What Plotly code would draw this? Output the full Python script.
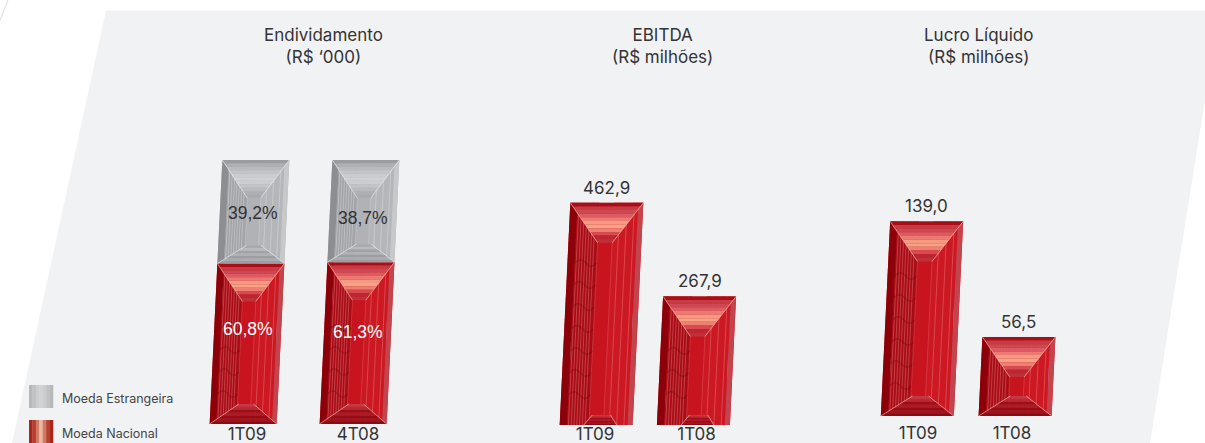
import math
import plotly.graph_objects as go

W, H = 1205, 443

# ---- data ----
debt_periods = ["1T09", "4T08"]
debt_national = [60.8, 61.3]
debt_foreign = [39.2, 38.7]
ebitda_periods = ["1T09", "1T08"]
ebitda_values = [462.9, 267.9]
profit_periods = ["1T09", "1T08"]
profit_values = [139.0, 56.5]
panel_titles = ["Endividamento<br>(R$ ‘000)", "EBITDA<br>(R$ milhões)", "Lucro Líquido<br>(R$ milhões)"]
legend_labels = ["Moeda Estrangeira", "Moeda Nacional"]


def fmt(v, suffix=""):
    return f"{v:.1f}".replace(".", ",") + suffix


TXT = "Inter, Liberation Sans"
RED = dict(
    main="#c8141f", left="#a80c16", edge="#8c0009", right="#cc1822", rim="#c4444e",
    line="#f3b7a8", stripe="rgba(240,140,140,0.40)", wave="rgba(110,0,10,0.30)",
    top=["#a80e18", "#c83a44", "#cc4852", "#de5a62", "#ec7a72", "#f59a80", "#f6a287",
         "#ee8070", "#d84a50", "#bb2630", "#c0303a"],
    bottom=["#8c0a14", "#a01420", "#940c16", "#ac1c28", "#9c0e18", "#b82a34", "#c23a44"],
)
GRAY = dict(
    main="#b0b2b6", left="#a2a4a8", edge="#8c8e92", right="#b4b6ba", rim="#c6c8ca",
    line="#eceded", stripe="rgba(235,235,238,0.35)", wave=None,
    top=["#9a9ca0", "#aeb0b4", "#b8babe", "#c2c4c6", "#cacccf", "#cfd1d3", "#cbcdd0",
         "#c2c4c6", "#b8babd", "#aeb0b4", "#a8aaae"],
    bottom=["#9c9ea2", "#aaacb0", "#9c9ea2", "#b0b2b6", "#a0a2a6", "#b8babe", "#a8aaae"],
)

# panel geometry (page pixels)
PANELS = [
    dict(c0=249.5, step=110, base=424, top=150, ppu=2.64, bar=67, tick=(-0.023, -0.014), stand=-2),
    dict(c0=601.5, step=95, base=425, top=150, ppu=0.48, bar=73, tick=(-0.068, 0.0), stand=-3),
    dict(c0=922.0, step=95, base=416, top=150, ppu=1.40, bar=73, tick=(-0.042, -0.053), stand=5),
]
SKEW = 0.048  # horizontal px of lean per px of height

shapes = []
annotations = []
fig = go.Figure()


def poly_paper(pts, color):
    path = "M" + "L".join(f"{x / W:.5f},{1 - y / H:.5f}" for x, y in pts) + "Z"
    shapes.append(dict(type="path", path=path, xref="paper", yref="paper", fillcolor=color,
                       line=dict(width=0), layer="below"))


# background slanted panel
poly_paper([(106, 10.5), (1205, 10.5), (1205, 100), (1150, 443), (12, 443)], "#f1f2f4")
shapes.append(dict(type="line", xref="paper", yref="paper", x0=0, y0=1 - 20 / H, x1=8 / W, y1=1,
                   line=dict(color="#dcdcdc", width=1)))

for i, p in enumerate(PANELS):
    n = "" if i == 0 else str(i + 1)
    p["xa"], p["ya"] = "x" + n, "y" + n
    x0 = p["c0"] - p["step"] / 2
    x1 = x0 + 2 * p["step"]
    p["ymax"] = (p["base"] - p["top"]) / p["ppu"]
    cats = [debt_periods, ebitda_periods, profit_periods][i]
    fig.update_layout(**{
        "xaxis" + n: dict(domain=[x0 / W, x1 / W], range=[-0.5, 1.5],
                          tickvals=[0 + p["tick"][0], 1 + p["tick"][1]], ticktext=cats,
                          showgrid=False, zeroline=False, showline=False, ticks="", automargin=False,
                          anchor=p["ya"], ticklabelstandoff=p["stand"],
                          tickfont=dict(family=TXT, size=17, color="#333333")),
        "yaxis" + n: dict(domain=[1 - p["base"] / H, 1 - p["top"] / H], range=[0, p["ymax"]],
                          visible=False, anchor=p["xa"], automargin=False),
    })


def add_segment(p, idx, low, high, total, pal, depth, inner=0.2, bdepth=20, bev=(0.42, 0.64), foot=(0.0, 1.0)):
    """Draw one slanted, bevelled bar segment from its values through the panel's axes."""
    step, ppu = p["step"], p["ppu"]
    half = p["bar"] / 2 / step
    lean = SKEW * ppu / step  # x units per y unit

    def X(u, y):
        return idx + (y - total / 2) * lean + (u - 0.5) * 2 * half

    def poly(corners, color, layer="above"):
        d = "M" + "L".join(f"{X(u, y):.5f},{y:.4f}" for u, y in corners) + "Z"
        shapes.append(dict(type="path", path=d, xref=p["xa"], yref=p["ya"], fillcolor=color,
                           line=dict(width=0), layer=layer))

    def seg(a, b, color, width=0.7):
        d = f"M{X(a[0], a[1]):.5f},{a[1]:.4f}L{X(b[0], b[1]):.5f},{b[1]:.4f}"
        shapes.append(dict(type="path", path=d, xref=p["xa"], yref=p["ya"],
                           line=dict(color=color, width=width), layer="above"))

    dt = depth / ppu
    db = bdepth / ppu
    a, b = 0.5 - inner / 2, 0.5 + inner / 2
    ba, bb = bev
    f0, f1 = foot

    # side faces
    poly([(0, low), (1, low), (1, high), (0, high)], pal["main"], "below")
    poly([(0, low), (0.1, low), (0.1, high), (0, high)], pal["edge"])
    poly([(0.1, low), (a, low), (a, high), (0.1, high)], pal["left"])
    poly([(b, low), (0.93, low), (0.93, high), (b, high)], pal["right"])
    poly([(0.93, low), (1, low), (1, high), (0.93, high)], pal["rim"])
    for k in range(7):
        u = 0.12 + k * 0.038
        seg((u, low), (u, high), pal["stripe"], 1)
    for u in (0.68, 0.78, 0.88):
        seg((u, low), (u, high), pal["stripe"], 1)
    seg((a, low), (a, high), pal["stripe"], 0.7)
    seg((b, low), (b, high), pal["stripe"], 0.7)

    # faint ripple texture on the left face
    if pal["wave"]:
        yy = low + 30 / ppu
        while yy < high - (depth + 12) / ppu:
            pts = []
            for s in range(9):
                u = 0.1 + (a - 0.1) * s / 8
                y = yy + 3.5 / ppu * math.sin(s / 8 * 2 * math.pi)
                pts.append(f"{X(u, y):.5f},{y:.4f}")
            shapes.append(dict(type="path", path="M" + "L".join(pts), xref=p["xa"], yref=p["ya"],
                               line=dict(color=pal["wave"], width=1.5), layer="above"))
            yy += 22 / ppu

    # bevelled top with horizontal bands
    nb = len(pal["top"])
    ytop = high - dt
    for k, c in enumerate(pal["top"]):
        t0, t1 = k / nb, (k + 1) / nb
        y0, y1 = high - dt * t0, high - dt * t1
        poly([(a * t0, y0), (1 - (1 - b) * t0, y0), (1 - (1 - b) * t1, y1), (a * t1, y1)], c)
    seg((0, high), (a, ytop), pal["line"])
    seg((1, high), (b, ytop), pal["line"])

    # bevelled bottom
    nb = len(pal["bottom"])
    for k, c in enumerate(pal["bottom"]):
        t0, t1 = k / nb, (k + 1) / nb
        y0, y1 = low + db * t0, low + db * t1
        poly([(f0 + (ba - f0) * t0, y0), (f1 + (bb - f1) * t0, y0),
              (f1 + (bb - f1) * t1, y1), (f0 + (ba - f0) * t1, y1)], c)
    seg((f0, low), (ba, low + db), pal["line"])
    seg((f1, low), (bb, low + db), pal["line"])
    return X


# --- panel 1: stacked
p = PANELS[0]
inner_w = (p["bar"] - SKEW * 264) / p["step"]
fig.add_bar(x=[0, 1], y=debt_national, marker_color=RED["main"], width=inner_w, xaxis=p["xa"], yaxis=p["ya"],
            name=legend_labels[1], showlegend=False, hoverinfo="skip")
fig.add_bar(x=[0, 1], y=debt_foreign, marker_color=GRAY["main"], width=inner_w, xaxis=p["xa"], yaxis=p["ya"],
            name=legend_labels[0], showlegend=False, hoverinfo="skip")
for i, (nat, fo) in enumerate(zip(debt_national, debt_foreign)):
    total = nat + fo
    Xr = add_segment(p, i, 0, nat, total, RED, 38)
    Xg = add_segment(p, i, nat, total, total, GRAY, 38, bdepth=18)
    annotations.append(dict(x=Xr(0.5, nat * 0.6), y=nat * 0.6, xref=p["xa"], yref=p["ya"], text=fmt(nat, "%"),
                            yshift=[-1, -5][i], showarrow=False,
                            font=dict(family="Liberation Sans", size=17.5, color="#ffffff")))
    ym = nat + fo * 0.49
    annotations.append(dict(x=Xg(0.5, ym), y=ym, xref=p["xa"], yref=p["ya"], text=fmt(fo, "%"),
                            yshift=[0, -6][i], showarrow=False,
                            font=dict(family="Liberation Sans", size=17.5, color="#333333")))

# --- panels 2 and 3: single bars
for j, (p, vals) in enumerate(((PANELS[1], ebitda_values), (PANELS[2], profit_values))):
    inner_w = (p["bar"] - SKEW * max(vals) * p["ppu"]) / p["step"]
    fig.add_bar(x=[0, 1], y=vals, marker_color=RED["main"], width=inner_w, xaxis=p["xa"], yaxis=p["ya"],
                showlegend=False, hoverinfo="skip")
    for i, v in enumerate(vals):
        kw = dict(bdepth=10, bev=(0.44, 0.69), foot=(0.33, 0.78)) if j == 0 else {}
        X = add_segment(p, i, 0, v, v, RED, 40, **kw)
        annotations.append(dict(x=X(0.5, v), y=v, xref=p["xa"], yref=p["ya"], text=fmt(v), showarrow=False,
                                yanchor="bottom", yshift=3,
                                font=dict(family=TXT, size=17, color="#333333")))

# titles
for t, cx in zip(panel_titles, (323, 662, 978)):
    annotations.append(dict(x=cx / W, y=1 - 45.5 / H, xref="paper", yref="paper", text=t, showarrow=False,
                            xanchor="center", yanchor="middle", align="center",
                            font=dict(family=TXT, size=17, color="#333333")))

# legend (hand-built, gradient swatches)
gray_sw = ["#b6b8ba", "#c0c2c4", "#cbcdce", "#d2d3d5", "#cbcdce", "#c0c2c4", "#b6b8ba"]
red_sw = ["#a8261c", "#b84030", "#d07a64", "#ecb8a4", "#d07a64", "#b84030", "#a8261c"]
for (y0, y1, cols, lab) in ((385, 408, gray_sw, legend_labels[0]), (420, 443, red_sw, legend_labels[1])):
    sw = 24 / len(cols)
    for k, c in enumerate(cols):
        xa = 29 + k * sw
        poly_paper([(xa, y0), (xa + sw + 0.3, y0), (xa + sw + 0.3, y1), (xa, y1)], c)
    annotations.append(dict(x=59.5 / W, y=1 - (y0 + 13) / H, xref="paper", yref="paper", text=lab, xanchor="left",
                            yanchor="middle", showarrow=False, font=dict(family=TXT, size=12.5, color="#444444")))

fig.update_layout(
    width=W, height=H, margin=dict(l=0, r=0, t=0, b=0),
    paper_bgcolor="rgba(0,0,0,0)", plot_bgcolor="rgba(0,0,0,0)",
    barmode="stack", shapes=shapes, annotations=annotations,
)
fig.write_html("out.html", config={"displayModeBar": False},
               post_script="document.body.style.margin='0';document.body.style.overflow='hidden';")
